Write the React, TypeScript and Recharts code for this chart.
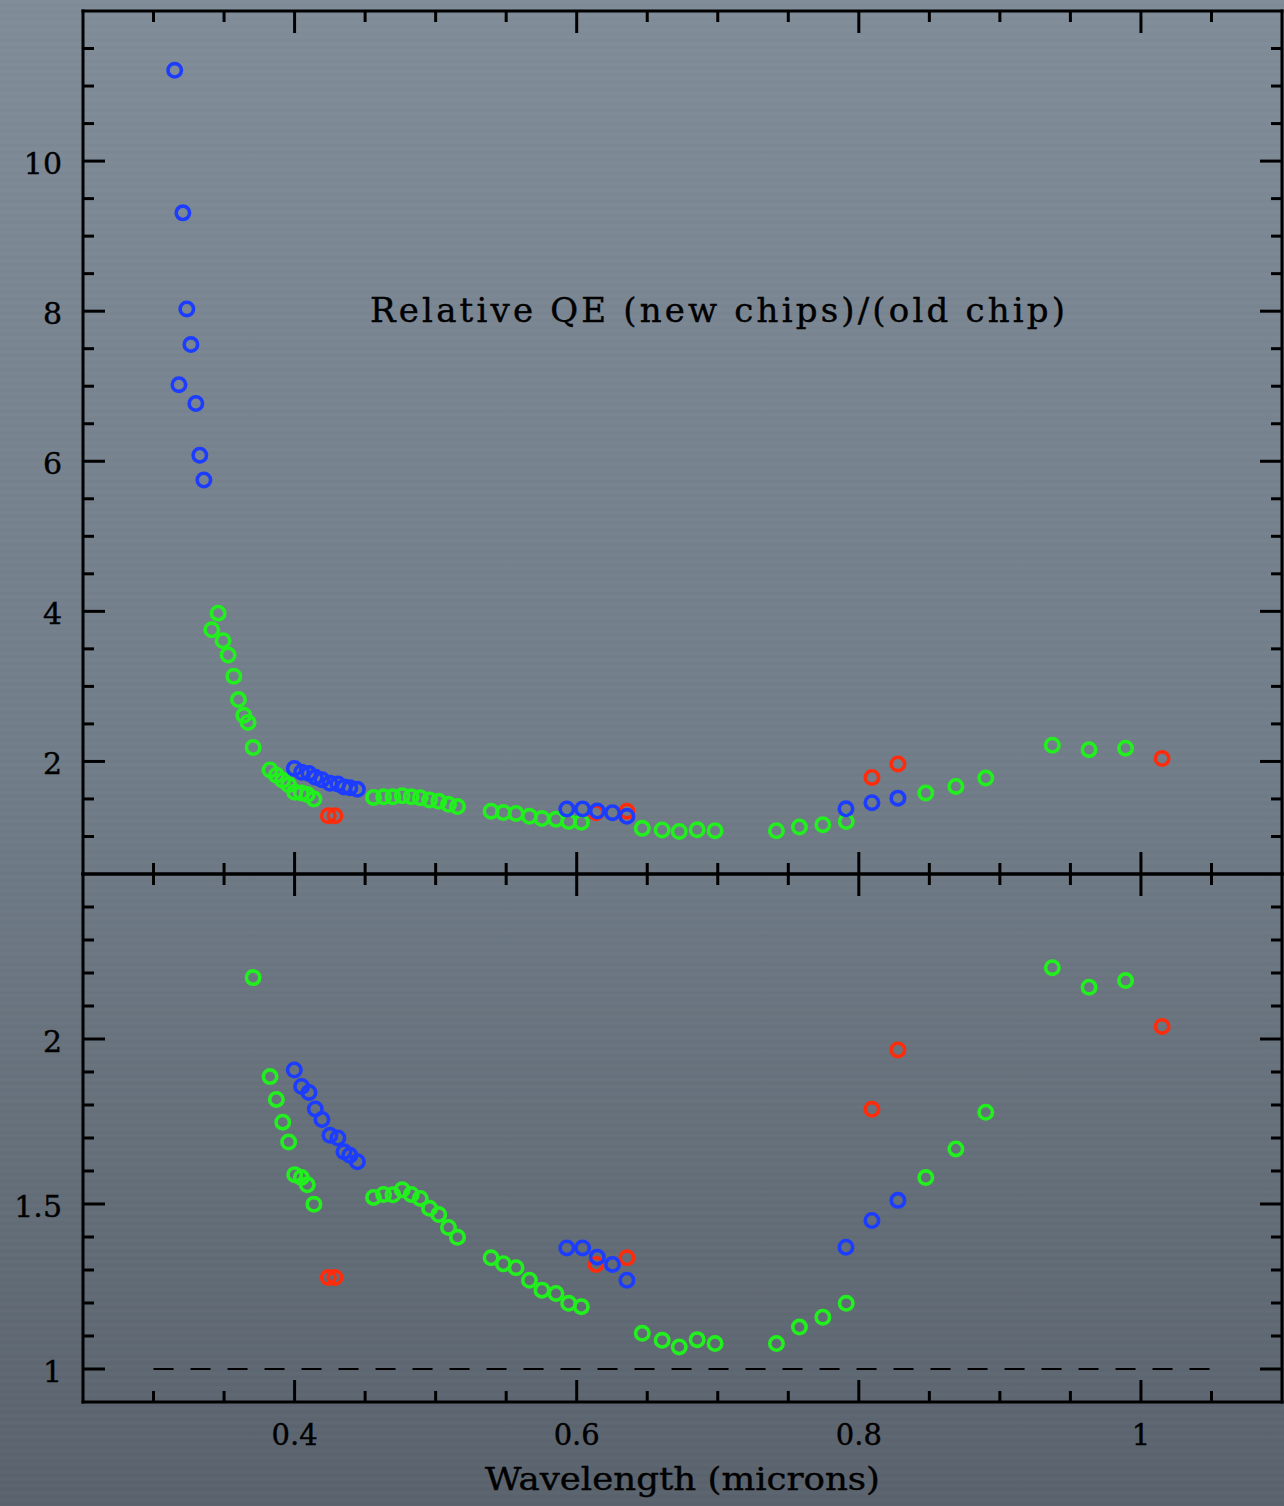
import { ReferenceLine, Scatter, ScatterChart, XAxis, YAxis } from "recharts";

// wavelength (microns) and relative QE
const greenWave = [
  0.3413, 0.3458, 0.3493, 0.3529, 0.3569, 0.3602, 0.364, 0.367, 0.3706, 0.3826, 0.3871, 0.3916,
  0.3958, 0.4001, 0.4048, 0.409, 0.4137, 0.456, 0.4631, 0.4697, 0.4763, 0.4827, 0.4891, 0.4957,
  0.5022, 0.5091, 0.5155, 0.5393, 0.548, 0.557, 0.5665, 0.5754, 0.5853, 0.5943, 0.6033, 0.6465,
  0.6606, 0.6727, 0.6854, 0.6981, 0.7416, 0.7579, 0.7745, 0.7911, 0.8475, 0.8688, 0.89, 0.9372,
  0.9632, 0.9891,
];
const greenQE = [
  3.754, 3.976, 3.608, 3.418, 3.134, 2.824, 2.615, 2.52, 2.186, 1.886, 1.817, 1.748, 1.688, 1.589,
  1.58, 1.558, 1.499, 1.52, 1.529, 1.528, 1.543, 1.529, 1.517, 1.487, 1.468, 1.429, 1.399, 1.337,
  1.319, 1.307, 1.269, 1.239, 1.229, 1.199, 1.189, 1.108, 1.087, 1.067, 1.089, 1.077, 1.077, 1.127,
  1.157, 1.199, 1.58, 1.667, 1.778, 2.216, 2.157, 2.177,
];

const blueWave = [
  0.315, 0.318, 0.3208, 0.3236, 0.3265, 0.33, 0.3328, 0.3357, 0.3998, 0.405, 0.4102, 0.4147, 0.4194,
  0.4251, 0.4307, 0.435, 0.4392, 0.4445, 0.593, 0.6042, 0.6146, 0.6254, 0.6356, 0.7909, 0.8093,
  0.8277,
];
const blueQE = [
  11.21, 7.02, 9.31, 8.03, 7.555, 6.77, 6.08, 5.75, 1.906, 1.856, 1.838, 1.788, 1.756, 1.708, 1.7,
  1.658, 1.648, 1.628, 1.367, 1.367, 1.339, 1.317, 1.269, 1.369, 1.45, 1.511,
];

const redWave = [0.4239, 0.4286, 0.6137, 0.6356, 0.8093, 0.8277, 1.015];
const redQE = [1.277, 1.277, 1.317, 1.337, 1.787, 1.967, 2.038];

const xTicks = [0.3, 0.35, 0.4, 0.45, 0.5, 0.55, 0.6, 0.65, 0.7, 0.75, 0.8, 0.85, 0.9, 0.95, 1, 1.05];
const xLabels = [0.4, 0.6, 0.8, 1];
const upperTicks = [1, 1.5, 2, 2.5, 3, 3.5, 4, 4.5, 5, 5.5, 6, 6.5, 7, 7.5, 8, 8.5, 9, 9.5, 10, 10.5, 11, 11.5];
const upperLabels = [2, 4, 6, 8, 10];
const lowerTicks = [1, 1.1, 1.2, 1.3, 1.4, 1.5, 1.6, 1.7, 1.8, 1.9, 2, 2.1, 2.2, 2.3, 2.4];
const lowerLabels = [1, 1.5, 2];

const X_DOMAIN: [number, number] = [0.25, 1.1];
const UPPER_DOMAIN: [number, number] = [0.5, 12];
const LOWER_DOMAIN: [number, number] = [0.9, 2.5];

const GREEN = "#22f01e";
const BLUE = "#1c3cff";
const RED = "#ff2c0c";
const INK = "#000";
const FONT = "'DejaVu Serif', serif";

type Pt = { x: number; y: number };
const zip = (xs: number[], ys: number[]): Pt[] => xs.map((x, i) => ({ x, y: ys[i] }));

const green = zip(greenWave, greenQE);
const blue = zip(blueWave, blueQE);
const red = zip(redWave, redQE);
const inLower = (p: Pt) => p.y >= LOWER_DOMAIN[0] && p.y <= LOWER_DOMAIN[1];

const frame = { stroke: INK, strokeWidth: 3, strokeLinecap: "square" as const };
// a hair of stroke to get closer to the heavier plot font
const textInk = { fill: INK, stroke: INK, strokeWidth: 0.4, fontFamily: FONT };

const ring = (color: string) => (p: any) =>
  <circle cx={p.cx} cy={p.cy} r={6.7} fill="none" stroke={color} strokeWidth={3.6} />;

// ticks all point into the plot; labels only on the big ones
const bottomTick = (withLabels: boolean) => (p: any) => {
  const v = p.payload.value;
  const big = xLabels.includes(v);
  return (
    <g>
      <line x1={p.x} x2={p.x} y1={p.y} y2={p.y - (big ? 22 : 11)} stroke={INK} strokeWidth={3} />
      {withLabels && big ? (
        <text x={p.x} y={p.y + 43} textAnchor="middle" fontSize={29} {...textInk}>
          {v === 1 ? "1" : v.toFixed(1)}
        </text>
      ) : null}
    </g>
  );
};

const topTick = (p: any) => {
  const big = xLabels.includes(p.payload.value);
  return <line x1={p.x} x2={p.x} y1={p.y} y2={p.y + (big ? 22 : 11)} stroke={INK} strokeWidth={3} />;
};

const leftTick = (labels: number[]) => (p: any) => {
  const v = p.payload.value;
  const big = labels.includes(v);
  return (
    <g>
      <line x1={p.x} x2={p.x + (big ? 22 : 11)} y1={p.y} y2={p.y} stroke={INK} strokeWidth={3} />
      {big ? (
        <text x={p.x - 21} y={p.y + 13} textAnchor="end" fontSize={30} {...textInk}>
          {String(v)}
        </text>
      ) : null}
    </g>
  );
};

const rightTick = (labels: number[]) => (p: any) => {
  const big = labels.includes(p.payload.value);
  return <line x1={p.x} x2={p.x - (big ? 22 : 11)} y1={p.y} y2={p.y} stroke={INK} strokeWidth={3} />;
};

const xTitle = (p: any) => {
  const vb = p.viewBox;
  return (
    <text x={vb.x + vb.width / 2} y={vb.y + 88} textAnchor="middle" fontSize={32} {...textInk}
      textLength={395} lengthAdjust="spacingAndGlyphs">
      Wavelength (microns)
    </text>
  );
};

function Panel({ lower }: { lower: boolean }) {
  const yDomain = lower ? LOWER_DOMAIN : UPPER_DOMAIN;
  const yTicks = lower ? lowerTicks : upperTicks;
  const yLabels = lower ? lowerLabels : upperLabels;
  const pick = (pts: Pt[]) => (lower ? pts.filter(inLower) : pts);
  const shared = {
    type: "number" as const,
    allowDataOverflow: true,
    interval: 0 as const,
    tickSize: 0,
    tickMargin: 0,
    tickLine: false,
    axisLine: frame,
  };
  return (
    <ScatterChart width={1284} height={lower ? 643 : 876} margin={{ top: 0, right: 0, bottom: 0, left: 0 }}>
      <XAxis xAxisId="b" dataKey="x" domain={X_DOMAIN} ticks={xTicks} height={lower ? 104 : 2}
        tick={bottomTick(lower)} label={lower ? { content: xTitle } : undefined} {...shared} />
      <XAxis xAxisId="t" orientation="top" dataKey="x" domain={X_DOMAIN} ticks={xTicks} height={11}
        tick={topTick} {...shared} />
      <YAxis yAxisId="l" dataKey="y" domain={yDomain} ticks={yTicks} width={83}
        tick={leftTick(yLabels)} {...shared} />
      <YAxis yAxisId="r" orientation="right" dataKey="y" domain={yDomain} ticks={yTicks} width={2}
        tick={rightTick(yLabels)} {...shared} />
      {lower ? (
        <ReferenceLine xAxisId="b" yAxisId="l" segment={[{ x: 0.3, y: 1 }, { x: 1.05, y: 1 }]}
          stroke={INK} strokeWidth={2} strokeDasharray="20 17" />
      ) : null}
      <Scatter name="green" xAxisId="b" yAxisId="l" data={pick(green)} shape={ring(GREEN)} isAnimationActive={false} />
      <Scatter name="red" xAxisId="b" yAxisId="l" data={pick(red)} shape={ring(RED)} isAnimationActive={false} />
      <Scatter name="blue" xAxisId="b" yAxisId="l" data={pick(blue)} shape={ring(BLUE)} isAnimationActive={false} />
    </ScatterChart>
  );
}

export default function App() {
  return (
    <div
      style={{
        position: "absolute",
        top: 0,
        left: 0,
        width: 1284,
        height: 1506,
        overflow: "hidden",
        background:
          "repeating-linear-gradient(180deg, rgba(255,255,255,0.01) 0px, rgba(255,255,255,0.01) 3px, rgba(0,0,0,0.012) 4px, rgba(0,0,0,0.012) 7px), linear-gradient(180deg, #808d99 0%, #717d89 50%, #5a636d 100%)",
      }}
    >
      <div style={{ position: "absolute", top: 0, left: 0 }}>
        <Panel lower={false} />
      </div>
      <div style={{ position: "absolute", top: 863, left: 0 }}>
        <Panel lower={true} />
      </div>
      <svg width={1284} height={400} style={{ position: "absolute", top: 0, left: 0, pointerEvents: "none" }}>
        <text x={370} y={322} fontSize={34} {...textInk} textLength={695} lengthAdjust="spacing">
          Relative QE (new chips)/(old chip)
        </text>
      </svg>
    </div>
  );
}
